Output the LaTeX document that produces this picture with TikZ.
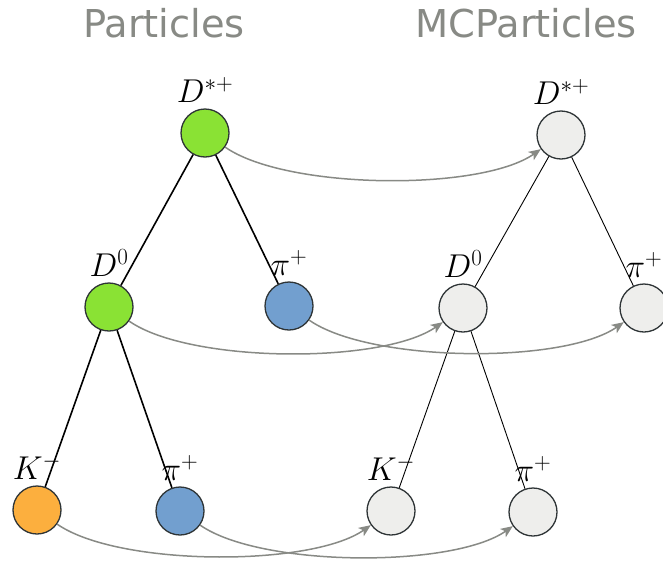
\documentclass[tikz,border=0pt]{standalone}
\usepackage{fix-cm}
\usepackage{fontspec}
\newfontfamily\titlefont{DejaVu Sans}
\usepackage{tikz}
\usetikzlibrary{arrows.meta}
\definecolor{ChamGreen}{HTML}{8AE234}
\definecolor{SkyBlue}{HTML}{729FCF}
\definecolor{OrangeFill}{HTML}{FCAF3E}
\definecolor{AlumLight}{HTML}{EEEEEC}
\definecolor{AlumDark}{HTML}{888A85}
\definecolor{Slate}{HTML}{2E3436}

\begin{document}
\begin{tikzpicture}[
  x=1pt, y=-1pt,
  font=\fontsize{33}{40}\selectfont,
  label distance=5pt,
  every label/.style={inner sep=1pt},
  title/.style={font=\titlefont\fontsize{38.4}{46}\selectfont,
                text=AlumDark, anchor=base},
  particle/.style={circle, draw=Slate, line width=1.3pt,
                   minimum size=48pt, inner sep=0pt},
  mcpart/.style={particle, fill=AlumLight},
  decay/.style={line width=1.6pt},
  mcdecay/.style={line width=0.9pt},
  link/.style={-{Stealth[length=12pt,width=10pt,inset=3pt]}, AlumDark,
               line width=1.5pt, out=-35, in=-145, looseness=0.6},
]
\useasboundingbox (0,0) rectangle (663,565);

% Titles
\node[title] (tpart) at (164,37) {Particles};
\node[title] (tmc) at (526,37) {MCParticles};

% Particles
\node[particle, fill=ChamGreen, label=above:$D^{*+}$] (dst) at (205,133) {};
\node[particle, fill=ChamGreen, label=above:$D^0$] (dz) at (109,307) {};
\node[particle, fill=SkyBlue, label=above:$\pi^+$] (pis) at (289,306) {};
\node[particle, fill=OrangeFill, label=above:$K^-$] (km) at (37,510) {};
\node[particle, fill=SkyBlue, label=above:$\pi^+$] (pip) at (180,511) {};

% MCParticles
\node[mcpart, label=above:$D^{*+}$] (mcdst) at (561,135) {};
\node[mcpart, label=above:$D^0$] (mcdz) at (463,308) {};
\node[mcpart, label=above:$\pi^+$] (mcpis) at (644,308) {};
\node[mcpart, label=above:$K^-$] (mckm) at (391,511) {};
\node[mcpart, label=above:$\pi^+$] (mcpip) at (533,512) {};

% Decay trees
\draw[decay] (dst) -- (dz);
\draw[decay] (dst) -- (pis);
\draw[decay] (dz) -- (km);
\draw[decay] (dz) -- (pip);
\draw[mcdecay] (mcdst) -- (mcdz);
\draw[mcdecay] (mcdst) -- (mcpis);
\draw[mcdecay] (mcdz) -- (mckm);
\draw[mcdecay] (mcdz) -- (mcpip);

% Truth matching
\draw[link] (dst) to (mcdst);
\draw[link] (dz) to (mcdz);
\draw[link] (pis) to (mcpis);
\draw[link] (km) to (mckm);
\draw[link] (pip) to (mcpip);

\end{tikzpicture}
\end{document}
